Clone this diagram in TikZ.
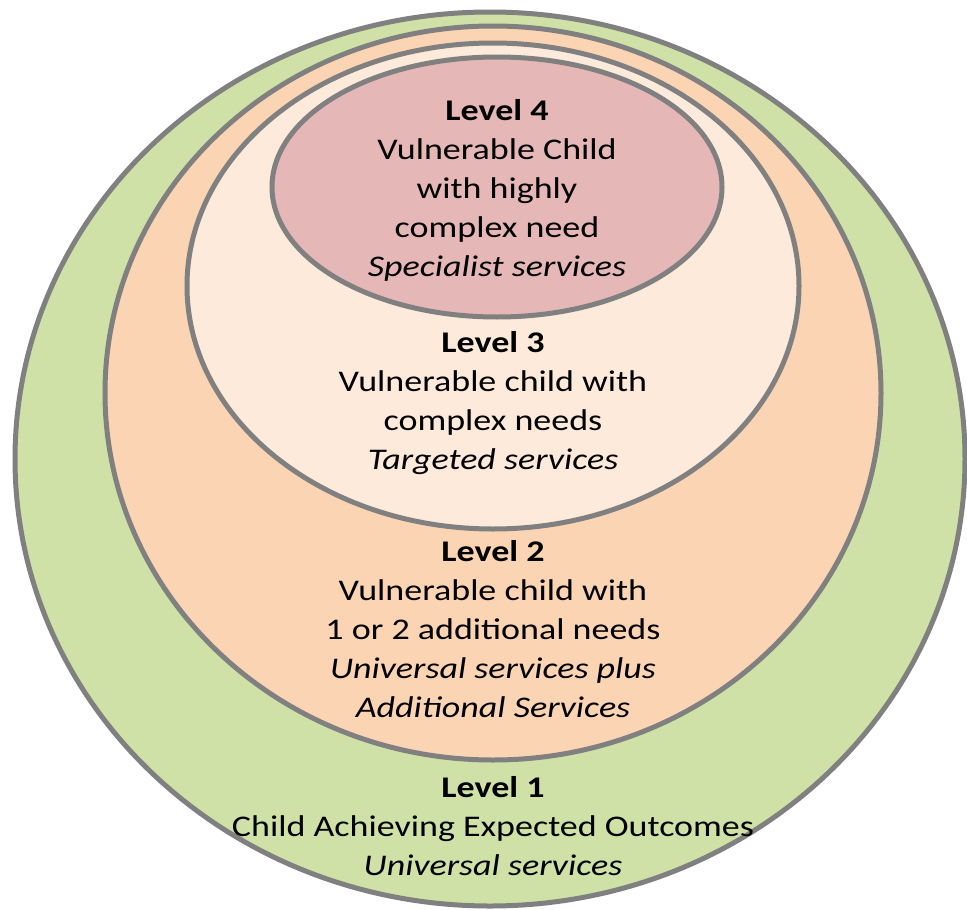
\documentclass[tikz,border=0pt]{standalone}
\usepackage{fontspec}
\setmainfont{Carlito}[FakeStretch=1.2]
\usetikzlibrary{positioning}
\definecolor{levelone}{RGB}{207,225,166}
\definecolor{leveltwo}{RGB}{251,212,180}
\definecolor{levelthree}{RGB}{253,234,218}
\definecolor{levelfour}{RGB}{229,184,183}
\definecolor{rimgrey}{RGB}{128,128,128}
\tikzset{
  ring/.style={draw=rimgrey, line width=5pt},
  leveltext/.style={align=center, inner sep=0pt, font=\fontsize{30}{39}\selectfont}
}

\begin{document}
\begin{tikzpicture}[x=1pt,y=-1pt]
			\useasboundingbox (0,0) rectangle (967,910);
			\draw[ring, fill=levelone] (490,459) ellipse [x radius=475, y radius=447];
			\draw[ring, fill=leveltwo] (493,393) ellipse [x radius=388, y radius=367];
			\draw[ring, fill=levelthree] (493,286) ellipse [x radius=306, y radius=243];
			\draw[ring, fill=levelfour] (497,187) ellipse [x radius=225, y radius=130];
			
			\node[leveltext] (lvlfour) at (497,190) {\textbf{Level 4}\\Vulnerable Child\\with highly\\complex need\\\textit{Specialist services}};
			\node[leveltext] (lvlthree) at (493,403.5) {\textbf{Level 3}\\Vulnerable child with\\complex needs\\\textit{Targeted services}};
			\node[leveltext] (lvltwo) at (493,629.5) {\textbf{Level 2}\\Vulnerable child with\\1 or 2 additional needs\\\textit{Universal services plus}\\\textit{Additional Services}};
			\node[leveltext] (lvlone) at (493,826.5) {\textbf{Level 1}\\Child Achieving Expected Outcomes\\\textit{Universal services}};
			
		\end{tikzpicture}
\end{document}
